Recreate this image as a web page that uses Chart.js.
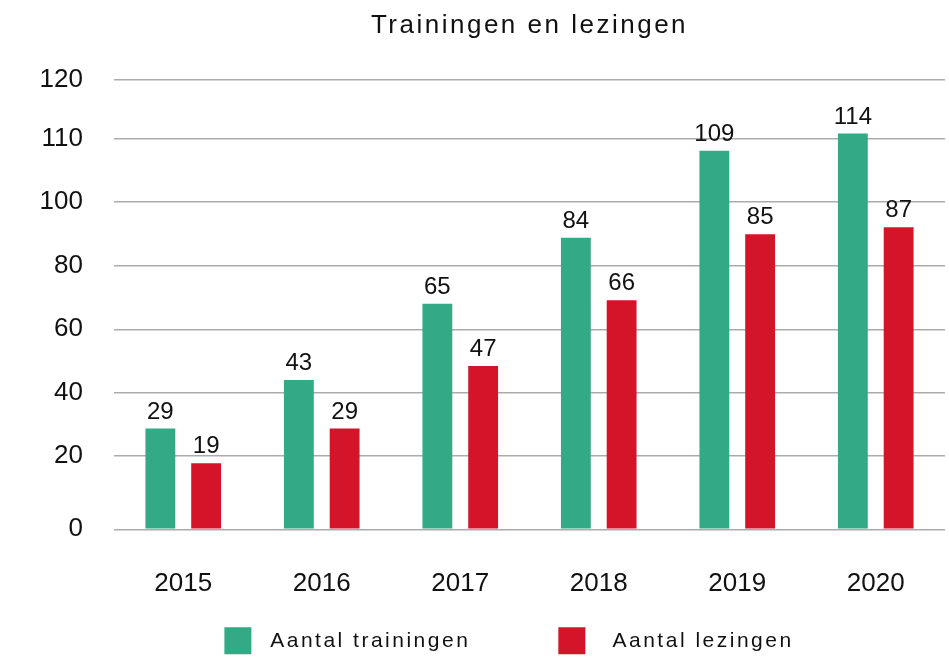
<!DOCTYPE html>
<html>
<head>
<meta charset="utf-8">
<title>Trainingen en lezingen</title>
<script src="https://cdn.jsdelivr.net/npm/chart.js@4/dist/chart.umd.min.js"></script>
<style>
  html, body { margin: 0; padding: 0; background: #fff; overflow: hidden; }
  #wrap { position: relative; width: 949px; height: 663px; }
</style>
</head>
<body>
<div id="wrap"><canvas id="chart"></canvas></div>
<script>
const years = ['2015', '2016', '2017', '2018', '2019', '2020'];
const trainingen = [29, 43, 65, 84, 109, 114];
const lezingen = [19, 29, 47, 66, 85, 87];
// the picture's y axis is irregular: grid lines sit at these values, labelled as below
const yTickValues = [0, 21.1, 39.3, 57.6, 75.9, 94.3, 112.5, 129.5];
const yTickLabels = ['0', '20', '40', '60', '80', '100', '110', '120'];

const GREEN = '#33a985';
const RED = '#d41428';
const TEXT = '#111111';

Chart.defaults.font.family = "'Liberation Sans', Arial, sans-serif";
Chart.defaults.color = TEXT;

// title and legend text in the reference is tracked out a little
const tracking = {
  id: 'tracking',
  beforeLayout(chart) { chart.ctx.letterSpacing = '2.5px'; },
  afterLayout(chart) {
    chart.ctx.letterSpacing = '0px';
    // legend sits a bit off-centre, just under the year labels
    chart.legend.left = 69;
    chart.legend.top = chart.chartArea.bottom + 10;
  },
  beforeDraw(chart) { chart.ctx.letterSpacing = '2.5px'; },
  beforeDatasetsDraw(chart) { chart.ctx.letterSpacing = '0px'; },
};

const valueLabels = {
  id: 'valueLabels',
  afterDatasetsDraw(chart) {
    const ctx = chart.ctx;
    ctx.save();
    ctx.font = "24px 'Liberation Sans', Arial, sans-serif";
    ctx.fillStyle = TEXT;
    ctx.textAlign = 'center';
    ctx.textBaseline = 'alphabetic';
    chart.data.datasets.forEach((ds, i) => {
      chart.getDatasetMeta(i).data.forEach((bar, j) => {
        ctx.fillText(String(ds.data[j]), bar.x, bar.y - 10);
      });
    });
    ctx.restore();
  }
};

new Chart(document.getElementById('chart'), {
  type: 'bar',
  data: {
    labels: years,
    datasets: [
      { label: 'Aantal trainingen', data: trainingen, backgroundColor: GREEN },
      { label: 'Aantal lezingen', data: lezingen, backgroundColor: RED },
    ]
  },
  options: {
    responsive: true,
    maintainAspectRatio: false,
    animation: false,
    layout: { padding: 0 },
    categoryPercentage: 0.661,
    barPercentage: 0.652,
    scales: {
      x: {
        grid: { display: false, drawTicks: false },
        border: { display: false },
        ticks: {
          z: 1, padding: 39, autoSkip: false, maxRotation: 0, minRotation: 0,
          font: { size: 26 }, color: TEXT
        },
        afterFit(scale) { scale.height = 70.2; }
      },
      y: {
        min: 0,
        max: 129.5,
        grid: { color: '#ababab', lineWidth: 1.5, drawTicks: false },
        border: { display: false },
        afterBuildTicks(scale) {
          scale.ticks = yTickValues.map(v => ({ value: v }));
        },
        ticks: {
          z: 1, padding: 31, font: { size: 26 }, color: TEXT,
          callback: (value, index) => yTickLabels[index]
        },
        afterFit(scale) { scale.width = 114; }
      }
    },
    plugins: {
      title: {
        display: true,
        text: 'Trainingen en lezingen',
        fullSize: false,
        color: TEXT,
        font: { size: 26, weight: 'normal' },
        padding: { top: 10, bottom: 38.5 }
      },
      legend: {
        position: 'bottom',
        maxHeight: 63.5,
        labels: {
          boxWidth: 27,
          boxHeight: 27,
          padding: 88,
          color: TEXT,
          font: { size: 21 },
          generateLabels(chart) {
            const items = Chart.defaults.plugins.legend.labels.generateLabels(chart);
            items.forEach((it, i) => { it.text = (i ? '  ' : ' ') + it.text; });
            return items;
          }
        }
      },
      tooltip: { enabled: false }
    }
  },
  plugins: [tracking, valueLabels]
});
</script>
</body>
</html>
